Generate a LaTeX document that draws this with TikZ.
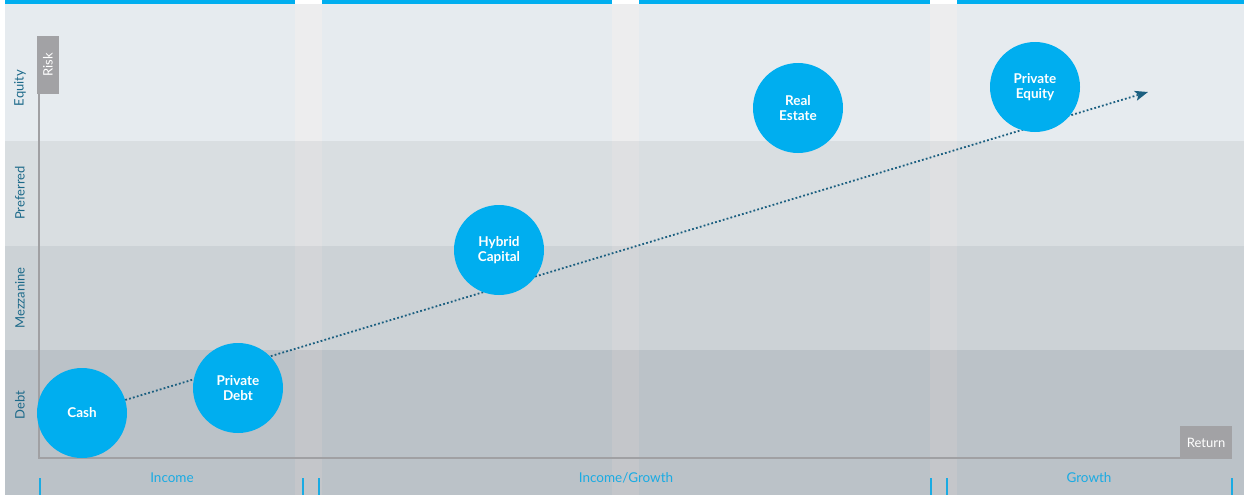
\documentclass[tikz,border=0pt]{standalone}
\usepackage{fontspec}
\setmainfont{Lato}
\usetikzlibrary{arrows.meta}
\definecolor{cblue}{HTML}{00AEEF}
\definecolor{topblue}{HTML}{00AEEF}
\definecolor{bEq}{HTML}{E6EBEF}
\definecolor{bPr}{HTML}{D9DEE1}
\definecolor{bMe}{HTML}{CCD2D6}
\definecolor{bDe}{HTML}{BBC2C8}
\definecolor{sEq}{HTML}{EDEDEE}
\definecolor{sPr}{HTML}{DFE0E2}
\definecolor{sMe}{HTML}{D3D5D8}
\definecolor{sDe}{HTML}{C4C6CA}
\definecolor{axisgray}{HTML}{A0A0A3}
\definecolor{boxgray}{HTML}{A2A2A5}
\definecolor{teal}{HTML}{1D6A8A}
\definecolor{arrowteal}{HTML}{1B5F80}
\definecolor{lblblue}{HTML}{1AABE3}
\pgfdeclarelayer{bg}
\pgfdeclarelayer{mid}
\pgfsetlayers{bg,mid,main}
\tikzset{
  asset/.style={circle, fill=cblue, minimum size=90pt, inner sep=0pt, text=white,
    font=\fontsize{13.5}{14.5}\selectfont\bfseries, align=center},
  sidelbl/.style={rotate=90, text=teal, font=\fontsize{13}{15}\selectfont},
  botlbl/.style={text=lblblue, font=\fontsize{13.5}{15}\selectfont},
  axbox/.style={fill=boxgray, text=white, font=\fontsize{13}{15}\selectfont, inner sep=0pt},
  tickmark/.style={draw=lblblue, line width=2pt},
  axisline/.style={draw=axisgray, line width=2pt},
  trend/.style={draw=arrowteal, line width=1.8pt, dash pattern=on 1.8pt off 2.2pt,
    -{Stealth[length=13pt,width=10pt,inset=3pt]}}
}
\begin{document}
\begin{tikzpicture}[x=1pt,y=-1pt]
\useasboundingbox (0,0) rectangle (1244,495);
\begin{pgfonlayer}{bg}
\fill[white] (0,0) rectangle (1244,495);
\fill[bEq] (5,4) rectangle (1244,141);
\fill[bPr] (5,141) rectangle (1244,246);
\fill[bMe] (5,246) rectangle (1244,350);
\fill[bDe] (5,350) rectangle (1244,495);
\foreach \a/\b in {295/322,612/639,930/957}{
  \fill[sEq] (\a,4) rectangle (\b,141);
  \fill[sPr] (\a,141) rectangle (\b,246);
  \fill[sMe] (\a,246) rectangle (\b,350);
  \fill[sDe] (\a,350) rectangle (\b,495);
}
\foreach \a/\b in {5/295,322/612,639/930,957/1244}{
  \fill[topblue] (\a,0) rectangle (\b,4);
}
\end{pgfonlayer}

% axes
\node[axbox, minimum width=22pt, minimum height=58pt] (risk) at (48,65) {};
\node[axbox, rotate=90] at (risk.center) {Risk};
\node[axbox, minimum width=52pt, minimum height=33pt] (ret) at (1206,442.5) {Return};
\coordinate (origin) at (38.5,457.5);
\draw[axisline] (risk.south west -| origin) -- (origin) -- (ret.west |- origin);

% side labels
\node[sidelbl] (leq) at (20,88) {Equity};
\node[sidelbl] (lpr) at (20,193) {Preferred};
\node[sidelbl] (lme) at (20,298) {Mezzanine};
\node[sidelbl] (lde) at (20,405) {Debt};

% bottom labels and ticks
\node[botlbl] (inc) at (172,478) {Income};
\node[botlbl] (incg) at (626,478) {Income/Growth};
\node[botlbl] (gro) at (1089,478) {Growth};
\foreach \x in {40,303,319,931,947,1232}{
  \draw[tickmark] (\x,478) -- (\x,495);
}

% assets
\node[asset] (cash) at (82,413) {Cash};
\node[asset] (pdebt) at (238,388) {Private\\Debt};
\node[asset] (hybrid) at (499,250) {Hybrid\\Capital};
\node[asset] (re) at (798,108) {Real\\Estate};
\node[asset] (pe) at (1035,87) {Private\\Equity};
\coordinate (tip) at (1148,92);
\begin{pgfonlayer}{mid}
\draw[trend] (cash) -- (tip);
\end{pgfonlayer}
\end{tikzpicture}
\end{document}
